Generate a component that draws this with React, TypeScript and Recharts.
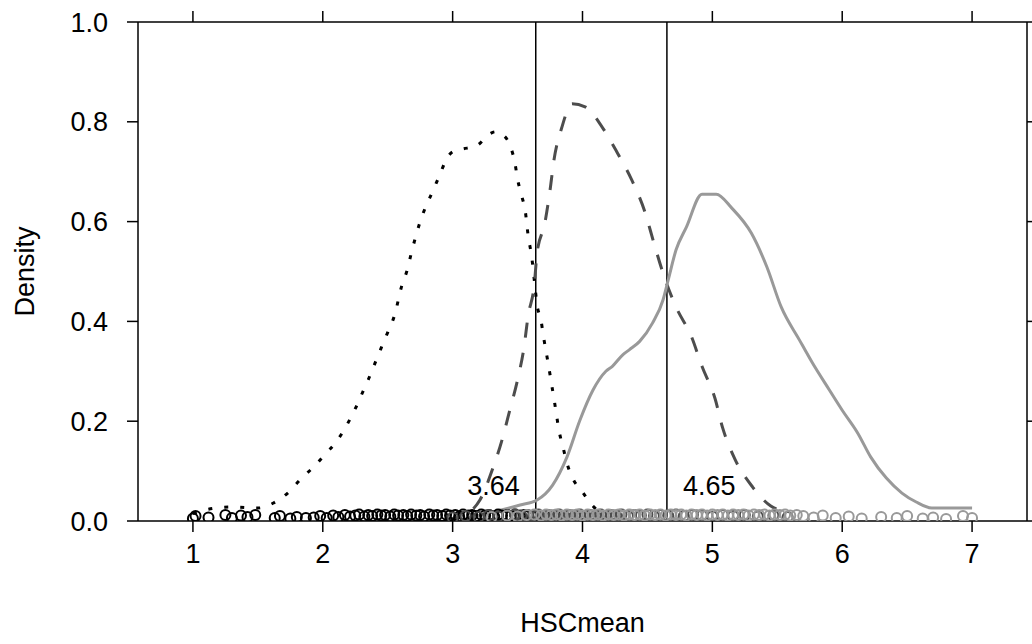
import React from 'react';
import { ComposedChart, Line, Scatter, XAxis, YAxis, ReferenceLine } from 'recharts';

// Density curve of group 1 (dotted, black)
const group1X = [1.0, 1.15, 1.3, 1.5, 1.62, 1.73, 1.83, 1.92, 2.02, 2.11, 2.18, 2.25, 2.3, 2.35, 2.4, 2.45, 2.5, 2.55, 2.61, 2.65, 2.68, 2.75, 2.85, 2.9, 2.95, 3.0, 3.07, 3.19, 3.28, 3.33, 3.38, 3.45, 3.48, 3.5, 3.53, 3.56, 3.58, 3.61, 3.63, 3.65, 3.68, 3.7, 3.72, 3.74, 3.76, 3.78, 3.8, 3.82, 3.85, 3.88, 3.92, 4.0, 4.08, 4.12];
const group1Y = [0.015, 0.025, 0.028, 0.026, 0.036, 0.056, 0.084, 0.106, 0.134, 0.161, 0.19, 0.225, 0.254, 0.283, 0.315, 0.347, 0.378, 0.41, 0.473, 0.503, 0.535, 0.6, 0.663, 0.693, 0.724, 0.74, 0.745, 0.753, 0.775, 0.78, 0.775, 0.747, 0.717, 0.685, 0.653, 0.62, 0.575, 0.527, 0.48, 0.433, 0.403, 0.369, 0.339, 0.309, 0.277, 0.246, 0.212, 0.18, 0.148, 0.116, 0.088, 0.058, 0.03, 0.02];

// Density curve of group 2 (dashed, dark gray)
const group2X = [2.95, 3.05, 3.15, 3.21, 3.31, 3.38, 3.44, 3.5, 3.55, 3.58, 3.63, 3.65, 3.71, 3.75, 3.78, 3.84, 3.92, 4.02, 4.15, 4.27, 4.38, 4.48, 4.55, 4.63, 4.72, 4.84, 4.92, 5.02, 5.08, 5.17, 5.31, 5.45, 5.55];
const group2Y = [0.003, 0.008, 0.022, 0.042, 0.106, 0.162, 0.222, 0.283, 0.349, 0.409, 0.477, 0.537, 0.597, 0.663, 0.723, 0.788, 0.836, 0.83, 0.79, 0.737, 0.683, 0.62, 0.557, 0.489, 0.429, 0.369, 0.31, 0.246, 0.186, 0.126, 0.068, 0.03, 0.02];

// Density curve of group 3 (solid, light gray)
const group3X = [3.1, 3.28, 3.52, 3.65, 3.77, 3.88, 3.98, 4.08, 4.18, 4.23, 4.31, 4.36, 4.44, 4.54, 4.62, 4.66, 4.72, 4.8, 4.92, 5.03, 5.15, 5.3, 5.42, 5.53, 5.67, 5.77, 5.9, 6.0, 6.12, 6.22, 6.34, 6.46, 6.57, 6.69, 6.85, 7.0];
const group3Y = [0.005, 0.016, 0.032, 0.042, 0.072, 0.128, 0.202, 0.262, 0.3, 0.31, 0.333, 0.343, 0.36, 0.397, 0.443, 0.483, 0.543, 0.589, 0.655, 0.655, 0.627, 0.577, 0.509, 0.429, 0.363, 0.317, 0.263, 0.222, 0.176, 0.128, 0.086, 0.056, 0.038, 0.026, 0.026, 0.026];

// Jittered raw observations (rug points) per group
const rug1X = [
  1.0, 1.02, 1.12, 1.25, 1.3, 1.37, 1.42, 1.48, 1.63, 1.67,
  1.75, 1.8, 1.87, 1.93, 1.98, 2.03, 2.08, 2.12, 2.17, 2.21,
  2.25, 2.28, 2.32, 2.35, 2.38, 2.42, 2.45, 2.48, 2.52, 2.55,
  2.58, 2.62, 2.65, 2.68, 2.72, 2.75, 2.78, 2.82, 2.85, 2.88,
  2.92, 2.95, 2.98, 3.02, 3.05, 3.08, 3.12, 3.15, 3.18, 3.22,
  3.25, 3.28, 3.32, 3.35, 3.38, 3.42, 3.45, 3.48, 3.52, 3.55,
  3.58, 3.62, 3.65, 3.72, 3.8,
];
const rug1Y = [
  0.005, 0.010, 0.007, 0.012, 0.006, 0.011, 0.008, 0.012, 0.006, 0.010,
  0.005, 0.008, 0.006, 0.007, 0.010, 0.006, 0.011, 0.008, 0.012, 0.009,
  0.011, 0.013, 0.009, 0.012, 0.010, 0.013, 0.011, 0.012, 0.009, 0.013,
  0.011, 0.012, 0.010, 0.013, 0.011, 0.012, 0.009, 0.013, 0.011, 0.012,
  0.010, 0.013, 0.011, 0.012, 0.009, 0.013, 0.011, 0.012, 0.010, 0.013,
  0.011, 0.012, 0.009, 0.013, 0.011, 0.012, 0.010, 0.013, 0.011, 0.012,
  0.010, 0.008, 0.011, 0.007, 0.009,
];
const rug2X = [
  3.0, 3.1, 3.2, 3.28, 3.35, 3.42, 3.48, 3.53, 3.58, 3.62,
  3.66, 3.7, 3.74, 3.78, 3.82, 3.86, 3.9, 3.94, 3.98, 4.02,
  4.06, 4.1, 4.14, 4.18, 4.22, 4.26, 4.3, 4.35, 4.4, 4.45,
  4.5, 4.55, 4.6, 4.66, 4.72, 4.78, 4.85, 4.92, 5.0, 5.08,
  5.16, 5.25, 5.35, 5.47, 5.58,
];
const rug2Y = [
  0.007, 0.010, 0.008, 0.012, 0.009, 0.011, 0.013, 0.010, 0.012, 0.011,
  0.013, 0.010, 0.012, 0.011, 0.013, 0.010, 0.012, 0.011, 0.013, 0.010,
  0.012, 0.011, 0.013, 0.010, 0.012, 0.011, 0.013, 0.010, 0.012, 0.011,
  0.013, 0.010, 0.012, 0.011, 0.013, 0.010, 0.012, 0.011, 0.009, 0.012,
  0.010, 0.012, 0.009, 0.011, 0.008,
];
const rug3X = [
  3.3, 3.42, 3.5, 3.57, 3.63, 3.68, 3.72, 3.76, 3.8, 3.84,
  3.88, 3.92, 3.96, 4.0, 4.04, 4.08, 4.12, 4.16, 4.2, 4.24,
  4.28, 4.32, 4.36, 4.4, 4.44, 4.48, 4.52, 4.56, 4.6, 4.64,
  4.68, 4.72, 4.76, 4.8, 4.84, 4.88, 4.92, 4.96, 5.0, 5.04,
  5.08, 5.12, 5.16, 5.2, 5.24, 5.28, 5.32, 5.36, 5.4, 5.44,
  5.48, 5.52, 5.56, 5.6, 5.65, 5.7, 5.78, 5.85, 5.95, 6.05,
  6.15, 6.3, 6.42, 6.5, 6.62, 6.7, 6.8, 6.93, 7.0,
];
const rug3Y = [
  0.008, 0.011, 0.009, 0.012, 0.013, 0.011, 0.013, 0.012, 0.013, 0.011,
  0.013, 0.012, 0.013, 0.011, 0.013, 0.012, 0.013, 0.011, 0.013, 0.012,
  0.013, 0.011, 0.013, 0.012, 0.013, 0.011, 0.013, 0.012, 0.013, 0.011,
  0.013, 0.012, 0.013, 0.011, 0.013, 0.012, 0.013, 0.011, 0.013, 0.012,
  0.013, 0.011, 0.013, 0.012, 0.013, 0.011, 0.013, 0.012, 0.013, 0.011,
  0.013, 0.012, 0.013, 0.011, 0.012, 0.010, 0.007, 0.011, 0.006, 0.009,
  0.005, 0.008, 0.006, 0.010, 0.005, 0.007, 0.004, 0.010, 0.006,
];

const cutoffs = [3.64, 4.65];
const cutoffLabels = ['3.64', '4.65'];
const xTicks = [1, 2, 3, 4, 5, 6, 7];
const yTicks = [0, 0.2, 0.4, 0.6, 0.8, 1.0];

const zip = (xs: number[], ys: number[]) => xs.map((x, i) => ({ x, y: ys[i] }));

const curve1 = zip(group1X, group1Y);
const curve2 = zip(group2X, group2Y);
const curve3 = zip(group3X, group3Y);
const points1 = zip(rug1X, rug1Y);
const points2 = zip(rug2X, rug2Y);
const points3 = zip(rug3X, rug3Y);

const FONT = 'Liberation Sans, Arial, sans-serif';
const FS = 27;

const circleShape = (color: string) => (props: any) => (
  <circle cx={props.cx} cy={props.cy} r={5} fill="white" fillOpacity={0} stroke={color} strokeWidth={2} />
);

const makeLabel = (text: string, side: 'left' | 'right') => (props: any) => {
  const vb = props.viewBox || {};
  const x = side === 'left' ? vb.x - 16 : vb.x + 16;
  const y = vb.y + vb.height - 26;
  return (
    <text x={x} y={y} textAnchor={side === 'left' ? 'end' : 'start'} fontFamily={FONT} fontSize={FS} fill="#000">
      {text}
    </text>
  );
};

export default function App() {
  return (
    <div style={{ position: 'absolute', left: 0, top: 0, width: 1032, height: 644, background: '#fff' }}>
      <ComposedChart width={1032} height={644} margin={{ top: 0, right: 0, bottom: 0, left: 0 }}>
        <XAxis
          xAxisId="bottom"
          type="number"
          dataKey="x"
          domain={[0.577, 7.423]}
          ticks={xTicks}
          allowDataOverflow
          height={123}
          tickSize={11}
          tickMargin={12}
          stroke="#000"
          strokeWidth={1.5}
          tick={{ fill: '#000', fontSize: FS, fontFamily: FONT }}
          label={{ value: 'HSCmean', position: 'insideBottom', offset: 12, fill: '#000', fontSize: FS, fontFamily: FONT }}
        />
        <XAxis
          xAxisId="top"
          orientation="top"
          type="number"
          dataKey="x"
          domain={[0.577, 7.423]}
          ticks={xTicks}
          allowDataOverflow
          height={22}
          tickSize={11}
          stroke="#000"
          strokeWidth={1.5}
          tickFormatter={() => ''}
        />
        <YAxis
          yAxisId="left"
          type="number"
          dataKey="y"
          domain={[0, 1]}
          ticks={yTicks}
          allowDataOverflow
          width={138}
          tickSize={11}
          tickMargin={19}
          stroke="#000"
          strokeWidth={1.5}
          tickFormatter={(v: number) => v.toFixed(1)}
          tick={{ fill: '#000', fontSize: FS, fontFamily: FONT }}
          label={{ value: 'Density', angle: -90, position: 'insideLeft', offset: 24, fill: '#000', fontSize: FS, fontFamily: FONT, style: { textAnchor: 'middle' } }}
        />
        <YAxis
          yAxisId="right"
          orientation="right"
          type="number"
          dataKey="y"
          domain={[0, 1]}
          ticks={yTicks}
          allowDataOverflow
          width={5}
          tickSize={6}
          stroke="#000"
          strokeWidth={1.5}
          tickFormatter={() => ''}
        />
        {cutoffs.map((c, i) => (
          <ReferenceLine
            key={c}
            x={c}
            xAxisId="bottom"
            yAxisId="left"
            stroke="#000"
            strokeWidth={1.5}
            label={makeLabel(cutoffLabels[i], i === 0 ? 'left' : 'right')}
          />
        ))}
        <Line data={curve1} xAxisId="bottom" yAxisId="left" dataKey="y" type="monotone" stroke="#000" strokeWidth={3} strokeDasharray="4 12" dot={false} isAnimationActive={false} />
        <Scatter data={points1} xAxisId="bottom" yAxisId="left" dataKey="y" shape={circleShape('#000')} isAnimationActive={false} />
        <Line data={curve2} xAxisId="bottom" yAxisId="left" dataKey="y" type="monotone" stroke="#4d4d4d" strokeWidth={3} strokeDasharray="15 15" dot={false} isAnimationActive={false} />
        <Scatter data={points2} xAxisId="bottom" yAxisId="left" dataKey="y" shape={circleShape('#4d4d4d')} isAnimationActive={false} />
        <Line data={curve3} xAxisId="bottom" yAxisId="left" dataKey="y" type="monotone" stroke="#999999" strokeWidth={3} dot={false} isAnimationActive={false} />
        <Scatter data={points3} xAxisId="bottom" yAxisId="left" dataKey="y" shape={circleShape('#999999')} isAnimationActive={false} />
      </ComposedChart>
    </div>
  );
}
